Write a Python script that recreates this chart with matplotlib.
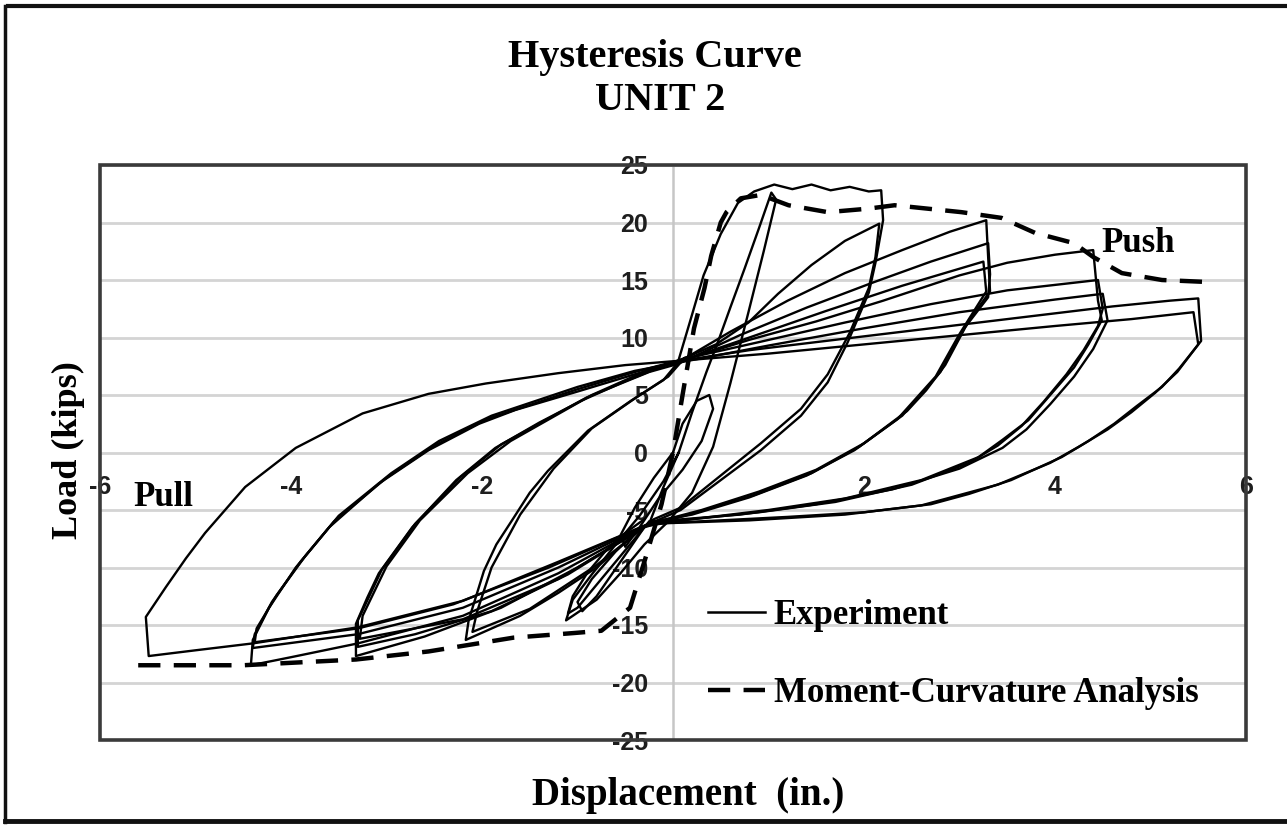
import matplotlib
matplotlib.use('Agg')
import matplotlib.pyplot as plt
from matplotlib.lines import Line2D
from matplotlib.patches import Rectangle

plt.rcParams['axes.unicode_minus'] = False

x_ticks = [-6, -4, -2, 2, 4, 6]
y_ticks = [-25, -20, -15, -10, -5, 0, 5, 10, 15, 20, 25]

# moment-curvature envelope (dashed), pull side then push side
mc_x = [-5.6, -4.5, -3.32, -2.56, -1.67, -1.04, -0.75, -0.45, -0.3, -0.12, 0.0,
        0.1, 0.22, 0.33, 0.4, 0.5, 0.56, 0.71, 0.92, 1.21, 1.62, 2.04, 2.32,
        3.02, 3.44, 3.79, 4.2, 4.4, 4.7, 5.12, 5.67]
mc_y = [-18.5, -18.5, -18.0, -17.3, -16.1, -15.7, -15.5, -13.5, -9.5, -4.5, 0.0,
        5.0, 10.8, 14.3, 17.1, 20.0, 20.9, 22.1, 22.4, 21.5, 20.9, 21.2, 21.5,
        20.9, 20.4, 19.1, 18.2, 17.0, 15.6, 15.0, 14.8]

# experiment, one list of (displacement, load) per cycle
small_loop = [(0.0, 0.0), (0.1, 2.5), (0.25, 4.5), (0.38, 5.0), (0.42, 3.8), (0.3, 1.0),
              (0.1, -1.5), (-0.15, -4.0), (-0.35, -6.5), (-0.5, -8.2), (-0.55, -7.2),
              (-0.4, -4.8), (-0.2, -2.2), (0.0, 0.0)]

cycle_1a = [(-0.25, -6.2), (-0.1, -3.0), (0.06, 0.0), (0.2, 3.5), (0.35, 7.0), (0.47, 9.6),
            (0.6, 12.6), (0.75, 16.0), (0.9, 19.5), (1.03, 22.6), (1.08, 22.0), (0.95, 17.5),
            (0.79, 12.2), (0.6, 6.0), (0.42, 0.5), (0.2, -3.5), (-0.05, -6.0), (-0.3, -8.0),
            (-0.55, -10.5), (-0.8, -12.8), (-1.12, -14.6), (-1.05, -12.8), (-0.85, -10.6),
            (-0.6, -8.0), (-0.35, -5.5), (-0.1, -2.5), (0.06, 0.0)]
cycle_1b = [(-0.25, -6.0), (-0.5, -8.5), (-0.75, -11.0), (-1.0, -13.5), (-1.1, -14.0),
            (-1.05, -12.5), (-0.9, -10.5), (-0.7, -8.5), (-0.5, -7.0), (-0.3, -5.8)]
cycle_1c = [(-0.3, -6.5), (-0.55, -9.5), (-0.8, -12.5), (-0.95, -13.8), (-1.0, -13.0),
            (-0.85, -11.0), (-0.6, -8.6), (-0.4, -7.0)]

cycle_2a = [(0.05, 7.8), (0.2, 12.0), (0.32, 15.4), (0.5, 19.0), (0.68, 21.7), (0.85, 22.7),
            (1.06, 23.3), (1.25, 22.9), (1.45, 23.3), (1.65, 22.8), (1.85, 23.1), (2.05, 22.7),
            (2.18, 22.8), (2.2, 20.2), (2.12, 16.5), (2.05, 13.9), (1.83, 9.6), (1.62, 6.1),
            (1.34, 3.2), (0.92, 0.2), (0.5, -2.4), (0.08, -5.0), (-0.3, -6.4), (-0.8, -10.0),
            (-1.2, -12.2), (-1.6, -14.2), (-2.17, -16.3), (-2.14, -14.6), (-1.98, -10.3),
            (-1.85, -8.0), (-1.67, -5.7), (-1.5, -3.5), (-1.31, -1.6), (-0.89, 1.9),
            (-0.44, 4.5), (-0.1, 6.3), (0.05, 7.8)]
cycle_2b = [(0.12, 8.2), (0.45, 9.4), (0.79, 11.3), (1.1, 13.8), (1.45, 16.3), (1.8, 18.4),
            (2.16, 19.9), (2.12, 17.0), (2.05, 14.3), (1.85, 10.4), (1.62, 6.8), (1.34, 3.8),
            (0.92, 0.8), (0.5, -2.0), (0.08, -4.8), (-0.2, -5.8), (-0.8, -9.8), (-1.5, -13.6),
            (-2.1, -15.6), (-2.05, -13.8), (-1.9, -10.0), (-1.6, -5.4), (-1.25, -1.4),
            (-0.85, 2.1), (-0.4, 4.7), (-0.05, 6.6), (0.12, 8.2)]

cycle_3a = [(0.15, 8.3), (0.6, 10.5), (1.2, 13.2), (1.8, 15.6), (2.4, 17.6), (2.9, 19.2),
            (3.28, 20.2), (3.3, 17.0), (3.32, 14.0), (3.1, 11.5), (2.85, 7.6), (2.65, 5.4),
            (2.45, 3.6), (2.0, 0.8), (1.5, -1.5), (0.9, -3.4), (0.3, -5.0), (-0.25, -6.2),
            (-1.0, -10.0), (-1.8, -13.5), (-2.6, -16.0), (-3.32, -17.7), (-3.32, -14.9),
            (-3.2, -12.6), (-3.08, -10.5), (-2.73, -6.5), (-2.27, -2.4), (-1.86, 0.4),
            (-1.4, 2.6), (-0.96, 4.5), (-0.5, 6.2), (-0.2, 7.2), (0.15, 8.3)]
cycle_3b = [(0.05, 7.7), (0.7, 10.2), (1.4, 12.6), (2.1, 14.8), (2.7, 16.6), (3.3, 18.2),
            (3.32, 15.5), (3.3, 13.5), (3.05, 10.8), (2.8, 7.0), (2.4, 3.2), (1.95, 0.5),
            (1.45, -1.8), (0.85, -3.7), (0.25, -5.2), (-0.3, -6.5), (-1.1, -10.6),
            (-1.9, -13.8), (-2.7, -15.8), (-3.3, -16.9), (-3.3, -14.6), (-3.05, -10.2),
            (-2.7, -6.2), (-2.22, -2.1), (-1.8, 0.7), (-0.9, 4.8), (-0.25, 7.0), (0.05, 7.7)]
cycle_3c = [(0.1, 8.0), (0.8, 10.0), (1.6, 12.3), (2.4, 14.5), (3.25, 16.6), (3.28, 14.0),
            (3.0, 10.3), (2.75, 6.6), (2.35, 2.9), (1.9, 0.2), (1.4, -2.0), (0.8, -3.9),
            (0.2, -5.4), (-0.2, -6.0), (-1.2, -11.0), (-2.2, -14.5), (-3.28, -16.2),
            (-3.25, -14.2), (-3.0, -9.9), (-2.65, -5.9), (-2.15, -1.8), (-1.7, 1.0),
            (-0.85, 5.0), (-0.2, 7.4), (0.1, 8.0)]

cycle_4a = [(0.1, 8.0), (0.8, 9.8), (1.5, 11.4), (2.2, 13.2), (3.0, 15.4), (3.5, 16.5),
            (4.0, 17.2), (4.4, 17.6), (4.45, 13.2), (4.49, 11.5), (4.35, 9.4), (4.2, 7.4),
            (3.95, 5.0), (3.72, 2.8), (3.45, 1.1), (3.2, -0.4), (2.6, -2.4), (1.8, -4.0),
            (1.0, -5.0), (0.3, -5.7), (-0.25, -6.2), (-1.2, -10.5), (-2.2, -14.2),
            (-3.3, -16.6), (-4.0, -17.8), (-4.42, -18.5), (-4.4, -16.3), (-4.23, -13.5),
            (-3.95, -10.0), (-3.6, -6.5), (-3.08, -2.7), (-2.56, 0.2), (-2.03, 2.5),
            (-1.65, 3.7), (-1.0, 5.3), (-0.4, 6.8), (0.1, 8.0)]
cycle_4b = [(0.15, 8.2), (0.9, 9.6), (1.8, 11.3), (2.7, 12.9), (3.5, 14.1), (4.45, 15.0),
            (4.5, 12.5), (4.45, 11.0), (4.3, 8.9), (4.12, 6.8), (3.88, 4.4), (3.65, 2.3),
            (3.4, 0.6), (3.1, -0.9), (2.5, -2.8), (1.7, -4.3), (0.9, -5.2), (0.2, -5.8),
            (-0.3, -6.4), (-1.2, -10.0), (-2.2, -13.5), (-3.3, -15.8), (-4.4, -17.0),
            (-4.38, -15.8), (-4.2, -13.0), (-3.9, -9.5), (-3.55, -6.0), (-3.0, -2.2),
            (-2.5, 0.6), (-1.95, 2.9), (-1.0, 5.5), (-0.4, 7.0), (0.15, 8.2)]
cycle_4c = [(0.05, 7.8), (1.0, 9.3), (2.0, 10.8), (3.0, 12.2), (4.0, 13.3), (4.5, 13.8),
            (4.55, 11.5), (4.4, 9.0), (4.2, 6.6), (3.95, 4.2), (3.7, 2.0), (3.45, 0.4),
            (3.0, -1.4), (2.3, -3.2), (1.5, -4.5), (0.7, -5.4), (-0.2, -6.0), (-1.3, -10.0),
            (-2.3, -13.2), (-3.3, -15.3), (-4.38, -16.5), (-4.36, -15.3), (-4.15, -12.4),
            (-3.85, -9.0), (-3.5, -5.5), (-2.95, -1.8), (-2.45, 1.0), (-1.9, 3.2),
            (-1.0, 5.7), (-0.4, 7.1), (0.05, 7.8)]

cycle_5a = [(0.1, 8.0), (0.8, 8.9), (1.5, 9.6), (2.2, 10.3), (3.0, 11.1), (3.8, 11.9),
            (4.6, 12.7), (5.2, 13.2), (5.5, 13.4), (5.53, 9.7), (5.3, 7.3), (5.12, 5.7),
            (4.85, 4.0), (4.62, 2.5), (4.35, 1.0), (4.07, -0.4), (3.54, -2.4), (3.1, -3.6),
            (2.7, -4.5), (2.0, -5.2), (1.2, -5.6), (0.5, -5.9), (-0.25, -6.2), (-1.2, -9.5),
            (-2.2, -12.9), (-3.3, -15.2), (-4.4, -16.6), (-5.0, -17.2), (-5.49, -17.7),
            (-5.52, -14.3), (-5.31, -11.7), (-5.1, -9.2), (-4.9, -7.0), (-4.48, -3.0),
            (-3.95, 0.4), (-3.25, 3.4), (-2.56, 5.1), (-1.96, 6.0), (-1.2, 6.9),
            (-0.5, 7.6), (0.1, 8.0)]
cycle_5b = [(0.1, 8.0), (1.0, 8.6), (2.0, 9.4), (3.0, 10.2), (4.0, 11.0), (4.8, 11.6),
            (5.45, 12.2), (5.5, 9.4), (5.28, 7.0), (5.05, 5.2), (4.8, 3.5), (4.55, 2.0),
            (4.25, 0.5), (3.95, -0.9), (3.4, -2.8), (2.6, -4.6), (1.8, -5.4), (0.8, -5.9),
            (-0.25, -6.2)]

cycles = [small_loop, cycle_1a, cycle_1b, cycle_1c, cycle_2a, cycle_2b,
          cycle_3a, cycle_3b, cycle_3c, cycle_4a, cycle_4b, cycle_4c,
          cycle_5a, cycle_5b]

serif = 'Liberation Serif'

fig = plt.figure(figsize=(12.87, 8.27), dpi=100)
ax = fig.add_axes([100 / 1287, 87 / 827, 1146 / 1287, 575 / 827])

for cyc in cycles:
    xs = [p[0] for p in cyc]
    ys = [p[1] for p in cyc]
    ax.plot(xs, ys, color='black', lw=1.7, zorder=3, solid_joinstyle='round')

ax.plot(mc_x, mc_y, color='black', lw=3.2, dashes=(5, 3), zorder=4)

ax.set_xlim(-6, 6)
ax.set_ylim(-25, 25)

# grid and centre line
ax.set_axisbelow(True)
ax.yaxis.grid(True, color='#d4d4d4', lw=2.0)
ax.axvline(0, color='#c6c6c6', lw=1.8, zorder=1)

# tick labels sit on the axes crossing at the origin, Excel style
for s in ['top', 'right']:
    ax.spines[s].set_visible(False)
ax.spines['left'].set_position(('data', 0))
ax.spines['bottom'].set_position(('data', 0))
ax.spines['left'].set_visible(False)
ax.spines['bottom'].set_visible(False)
ax.set_xticks(x_ticks)
ax.set_xticklabels([str(t) for t in x_ticks])
ax.set_yticks(y_ticks)
ax.set_yticklabels([str(t) for t in y_ticks])
ax.tick_params(axis='x', length=0, pad=16, labelsize=18, labelcolor='#1e1e1e')
ax.tick_params(axis='y', length=0, pad=18, labelsize=18, labelcolor='#1e1e1e')
for lbl in ax.get_xticklabels() + ax.get_yticklabels():
    lbl.set_fontweight('bold')
    lbl.set_family('Liberation Sans')

ax.add_patch(Rectangle((0, 0), 1, 1, transform=ax.transAxes, fill=False,
                       ec='#3a3a3a', lw=2.6, zorder=5, clip_on=False))

ax.text(-5.65, -3.9, 'Pull', fontsize=25, fontweight='bold', family=serif,
        ha='left', va='center', zorder=6)
ax.text(4.49, 18.2, 'Push', fontsize=25, fontweight='bold', family=serif,
        ha='left', va='center', zorder=6)

handles = [Line2D([], [], color='black', lw=1.8),
           Line2D([], [], color='black', lw=3.2, dashes=(5, 3))]
ax.legend(handles, ['Experiment', 'Moment-Curvature Analysis'],
          loc='upper left', bbox_to_anchor=(0.5305, 0.2452), frameon=False,
          borderpad=0, borderaxespad=0, handlelength=1.65, handletextpad=0.25,
          labelspacing=1.3, prop={'family': serif, 'weight': 'bold', 'size': 25})

fig.text(655 / 1287, 1 - 58 / 827, 'Hysteresis Curve', ha='center', va='center',
         fontsize=29, fontweight='bold', family=serif)
fig.text(660 / 1287, 1 - 100 / 827, 'UNIT 2', ha='center', va='center',
         fontsize=29, fontweight='bold', family=serif)
fig.text(688 / 1287, 1 - 795 / 827, 'Displacement  (in.)', ha='center', va='center',
         fontsize=28, fontweight='bold', family=serif)
fig.text(68 / 1287, 1 - 450 / 827, 'Load (kips)', ha='center', va='center',
         rotation=90, fontsize=26, fontweight='bold', family=serif)

# outer border of the picture
fig.add_artist(Line2D([8 / 1287, 1], [1 - 6 / 827, 1 - 6 / 827], color='#111111', lw=3))
fig.add_artist(Line2D([5 / 1287, 5 / 1287], [1 - 6 / 827, 1 - 822 / 827], color='#111111', lw=2.5))
fig.add_artist(Line2D([5 / 1287, 1], [1 - 821 / 827, 1 - 821 / 827], color='#111111', lw=3.5))

fig.savefig('out.png', dpi=100)
